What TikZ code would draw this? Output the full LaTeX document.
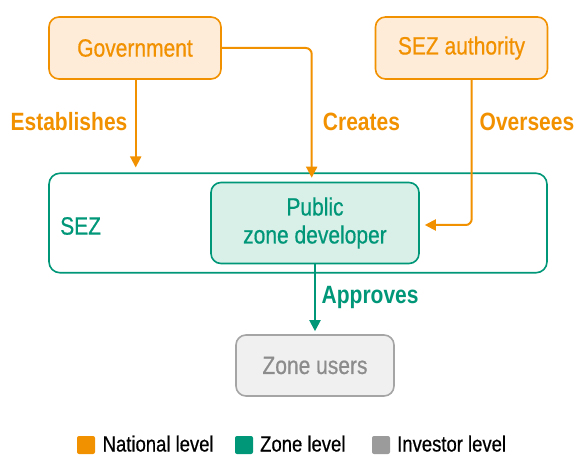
\documentclass[tikz,border=0pt]{standalone}
\usepackage{fontspec}
\setmainfont{Liberation Sans}[FakeStretch=0.84, UprightFeatures={FakeBold=0.6}]
\usetikzlibrary{arrows.meta}
\definecolor{natorange}{RGB}{242,145,0}
\definecolor{natfill}{RGB}{254,236,216}
\definecolor{zoneteal}{RGB}{0,150,120}
\definecolor{zonefill}{RGB}{217,240,233}
\definecolor{invborder}{RGB}{165,165,165}
\definecolor{invfill}{RGB}{240,240,240}
\definecolor{invtext}{RGB}{140,140,140}
\definecolor{invsq}{RGB}{155,155,155}
\tikzset{
  big/.style={font=\fontsize{25}{28}\selectfont},
  natbox/.style={big, draw=natorange, fill=natfill, text=natorange, line width=1.6pt, rounded corners=10pt, minimum width=172pt, minimum height=62pt, inner sep=0pt},
  devbox/.style={big, draw=zoneteal, fill=zonefill, text=zoneteal, line width=1.6pt, rounded corners=10pt, minimum width=208pt, minimum height=81pt, inner sep=0pt, align=center},
  sezbox/.style={draw=zoneteal, line width=1.6pt, rounded corners=11pt, minimum width=498pt, minimum height=99.5pt, inner sep=0pt},
  userbox/.style={big, draw=invborder, fill=invfill, text=invtext, line width=1.6pt, rounded corners=10pt, minimum width=158pt, minimum height=61pt, inner sep=0pt},
  natarrow/.style={draw=natorange, line width=2pt, -{Triangle[length=11pt,width=11pt]}},
  zonearrow/.style={draw=zoneteal, line width=2pt, -{Triangle[length=11pt,width=11pt]}},
  natlabel/.style={big, font=\fontsize{25}{28}\selectfont\bfseries, text=natorange, inner sep=0pt},
  zonelabel/.style={big, font=\fontsize{25}{28}\selectfont\bfseries, text=zoneteal, inner sep=0pt},
  legsq/.style={minimum width=18pt, minimum height=18pt, inner sep=0pt, rounded corners=2pt},
  legtext/.style={font=\fontsize{22}{24}\selectfont, inner sep=0pt, anchor=base west}
}
\begin{document}
\begin{tikzpicture}[x=1pt,y=-1pt]
\useasboundingbox (0,0) rectangle (576,457);
\node[sezbox] (sez) at (298,223) {};
\node[natbox] (gov) at (135,48) {Government};
\node[natbox] (auth) at (461.5,48) {SEZ authority};
\node[devbox] (dev) at (315,223) {Public\\zone developer};
\node[userbox] (users) at (315,365.5) {Zone users};
\node[big, text=zoneteal, inner sep=0pt, anchor=west] (sezlabel) at (60,226) {SEZ};

\draw[natarrow, shorten >=5pt] ([xshift=0.7pt]gov.south) -- ([xshift=0.7pt]gov.south |- sez.north);
\draw[natarrow, rounded corners=6pt, shorten >=4pt] (gov.east) -| ([xshift=-3.3pt]dev.north);
\draw[natarrow, rounded corners=6pt, shorten >=5pt] ([xshift=10.2pt]auth.south) |- ([yshift=-2pt]dev.east);
\draw[zonearrow, shorten >=3pt] (dev.south) -- (users.north);

\node[natlabel] (lest) at (69,122) {Establishes};
\node[natlabel] (lcre) at (361.5,122) {Creates};
\node[natlabel] (lover) at (527,122) {Oversees};
\node[zonelabel, anchor=west] (lapp) at (321.5,297) {Approves};

\node[legsq, fill=natorange] (sq1) at (86,445) {};
\node[legtext] (t1) at (102.5,451.5) {National level};
\node[legsq, fill=zoneteal] (sq2) at (244,445) {};
\node[legtext] (t2) at (260,451.5) {Zone level};
\node[legsq, fill=invsq] (sq3) at (381,445) {};
\node[legtext] (t3) at (397,451.5) {Investor level};
\end{tikzpicture}
\end{document}
